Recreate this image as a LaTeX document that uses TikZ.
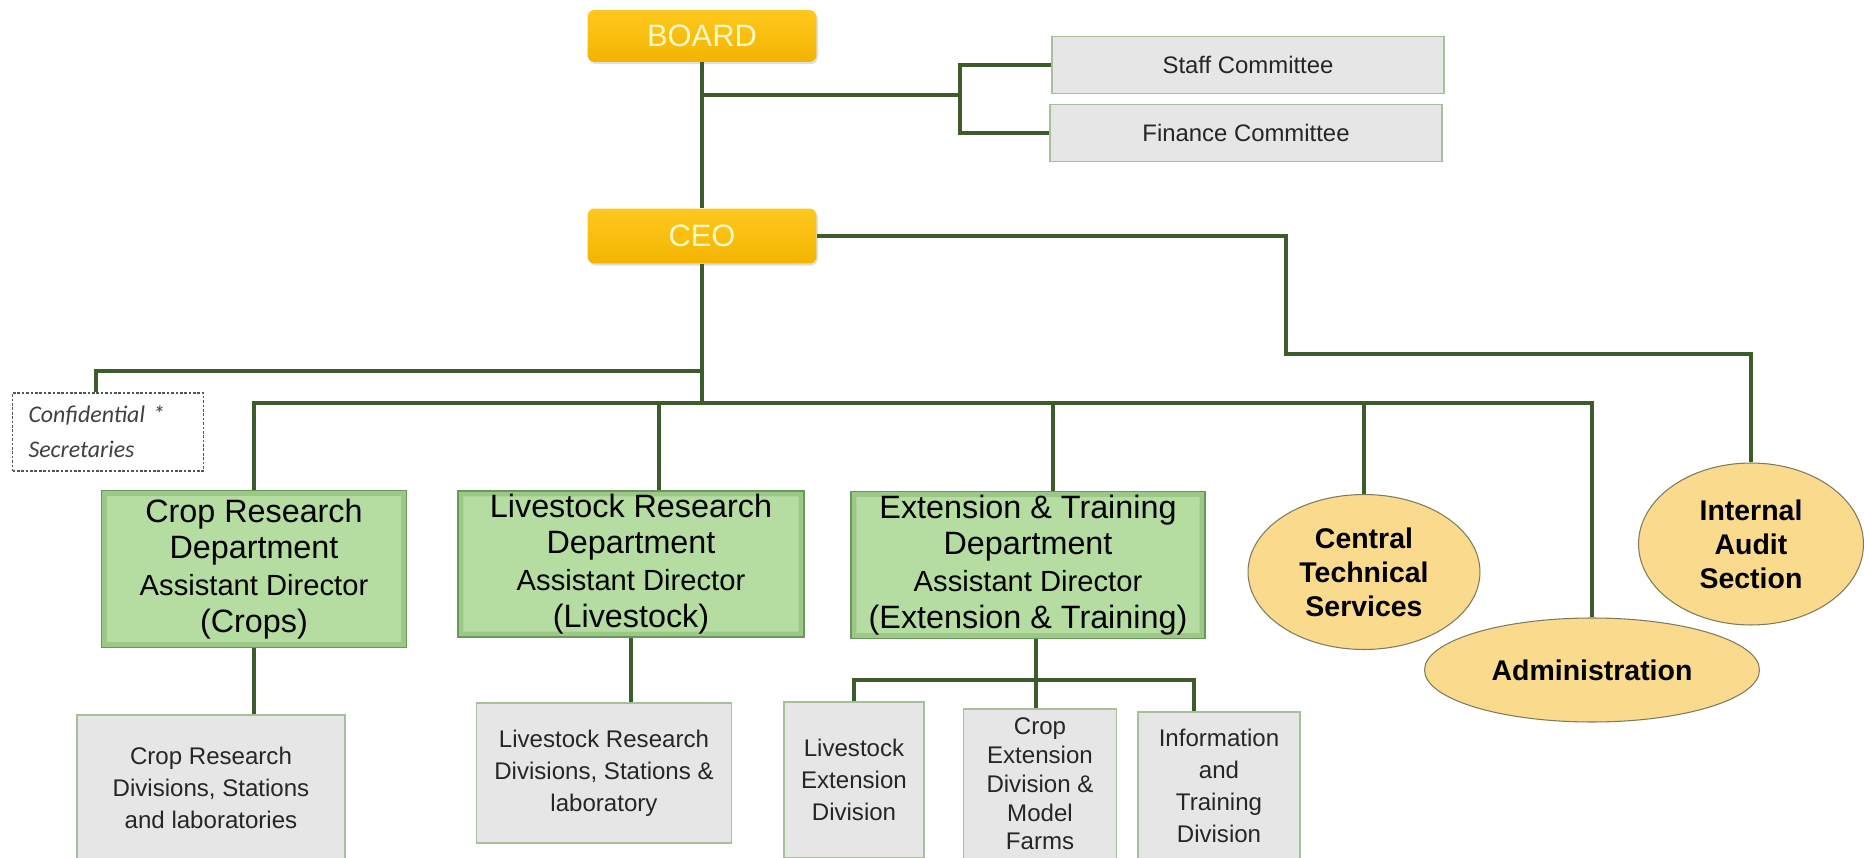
\documentclass[tikz,border=0pt]{standalone}
\usepackage{fontspec}
\setmainfont{Liberation Sans}
\newfontfamily\notefont{Carlito}
\usepackage{tikz}
\usetikzlibrary{shapes.geometric, shadows, calc}

\definecolor{conngreen}{HTML}{3D5C2B}
\definecolor{goldtop}{HTML}{FFC81E}
\definecolor{goldbot}{HTML}{F3B400}
\definecolor{goldtext}{HTML}{FFF8C8}
\definecolor{deptfill}{HTML}{B5DDA1}
\definecolor{deptedge}{HTML}{9CC887}
\definecolor{deptline}{HTML}{6B9858}
\definecolor{unitfill}{HTML}{E6E6E6}
\definecolor{unitline}{HTML}{A7BF9B}
\definecolor{unittext}{HTML}{262626}
\definecolor{officefill}{HTML}{FADB8D}
\definecolor{officeline}{HTML}{7D7A5E}
\definecolor{notegray}{HTML}{555555}

\newcommand{\asst}{\fontsize{16.6}{21.5}\selectfont}

\tikzstyle{conn} = [draw=conngreen, line width=2pt]
\tikzstyle{topbox} = [rectangle, rounded corners=4pt, minimum width=4.58cm, top color=goldtop, bottom color=goldbot, text=goldtext, font=\fontsize{17.6}{20}\selectfont, drop shadow={opacity=0.25, shadow xshift=0.8pt, shadow yshift=-1.2pt}]
\tikzstyle{comm} = [rectangle, draw=unitline, line width=0.8pt, fill=unitfill, minimum width=7.84cm, minimum height=1.14cm, text=unittext, font=\fontsize{13.6}{16}\selectfont]
\tikzstyle{note} = [rectangle, draw=notegray, dash pattern=on 1.5pt off 1pt, line width=0.6pt, text width=3.18cm, inner xsep=0.32cm, minimum height=1.56cm, align=left, text=black!75, font=\notefont\itshape\fontsize{13.6}{19.8}\selectfont]
\tikzstyle{dept} = [rectangle, draw=deptline, line width=0.8pt, fill=deptfill, inner sep=0pt, align=center, font=\fontsize{18.4}{21}\selectfont,
  path picture={\fill[deptedge, even odd rule] (path picture bounding box.south west) rectangle (path picture bounding box.north east) ([shift={(3pt,3pt)}]path picture bounding box.south west) rectangle ([shift={(-3pt,-3pt)}]path picture bounding box.north east);}]
\tikzstyle{unit} = [rectangle, draw=unitline, line width=0.8pt, fill=unitfill, inner sep=0pt, align=center, text=unittext, font=\fontsize{13.7}{18.1}\selectfont]
\tikzstyle{office} = [ellipse, draw=officeline, line width=0.6pt, fill=officefill, inner sep=0pt, align=center, font=\bfseries\fontsize{16.2}{19.3}\selectfont]

\begin{document}
\begin{tikzpicture}[x=0.02cm, y=-0.02cm]
\useasboundingbox (0,0) rectangle (1864,858);
\clip (0,0) rectangle (1864,858);

% board and chief executive
\node[topbox, minimum height=1.04cm] (board) at (702,36) {BOARD};
\node[topbox, minimum height=1.10cm] (ceo) at (702,236) {CEO};

\node[comm] (staff) at (1248,65) {Staff Committee};
\node[comm] (finance) at (1246,133) {Finance Committee};

\node[note] (secr) at (108,432) {Confidential *\\Secretaries};

% departments
\node[dept, minimum width=6.10cm, minimum height=3.14cm] (crop) at (254,569) {Crop Research\\Department\\{\asst Assistant Director}\\(Crops)};
\node[dept, minimum width=6.92cm, minimum height=2.92cm] (ls) at (631,564) {Livestock Research\\Department\\{\asst Assistant Director}\\(Livestock)};
\node[dept, minimum width=7.08cm, minimum height=2.94cm] (ext) at (1028,565) {Extension \& Training\\Department\\{\asst Assistant Director}\\(Extension \& Training)};

% divisions
\node[unit, minimum width=5.36cm, minimum height=2.92cm] (cropdiv) at (211,788) {Crop Research\\Divisions, Stations\\and laboratories};
\node[unit, minimum width=5.10cm, minimum height=2.80cm] (lsdiv) at (604,773) {Livestock Research\\Divisions, Stations \&\\laboratory};
\node[unit, minimum width=2.80cm, minimum height=3.12cm] (lsext) at (854,780) {Livestock\\Extension\\Division};
\node[unit, minimum width=3.06cm, minimum height=3.00cm, font=\fontsize{13.7}{16.4}\selectfont] (cropext) at (1040,784) {Crop\\Extension\\Division \&\\Model\\Farms};
\node[unit, minimum width=3.24cm, minimum height=2.96cm] (info) at (1219,786) {Information\\and\\Training\\Division};

% service units
\node[office, minimum width=4.64cm, minimum height=3.10cm] (cts) at (1364,572) {Central\\Technical\\Services};
\node[office, minimum width=6.70cm, minimum height=2.08cm] (admin) at (1592,670) {Administration};
\node[office, minimum width=4.50cm, minimum height=3.24cm] (audit) at (1751,544) {Internal\\Audit\\Section};

% connectors
\coordinate (cj) at (960,95);
\coordinate (au) at (1286,354);
\coordinate (sj) at (96,371);
\coordinate (bus) at (702,403);
\coordinate (lj) at (659,403);
\coordinate (ej) at (1053,403);
\coordinate (xj) at (1036,680);
\coordinate (xr) at (1194,680);

\draw[conn] (board.south) -- (ceo.north);
\draw[conn] (board.south |- cj) -- (cj);
\draw[conn] (staff.west) -| (cj) |- (finance.west);
\draw[conn] (ceo.east) -| (au) -| (audit.north);
\draw[conn] (ceo.south) -- (bus);
\draw[conn] (ceo.south |- sj) -- (sj) -- (sj |- secr.north);
\draw[conn] (crop.north) |- (admin.north |- bus) -- (admin.north);
\draw[conn] (lj) -- (lj |- ls.north);
\draw[conn] (ej) -- (ej |- ext.north);
\draw[conn] (cts.north) -- (cts.north |- bus);
\draw[conn] (crop.south) -- (crop.south |- cropdiv.north);
\draw[conn] (ls.south) -- (ls.south |- lsdiv.north);
\draw[conn] (xj |- ext.south) -- (xj |- cropext.north);
\draw[conn] (lsext.north) |- (xr) -- (xr |- info.north);
\end{tikzpicture}
\end{document}
